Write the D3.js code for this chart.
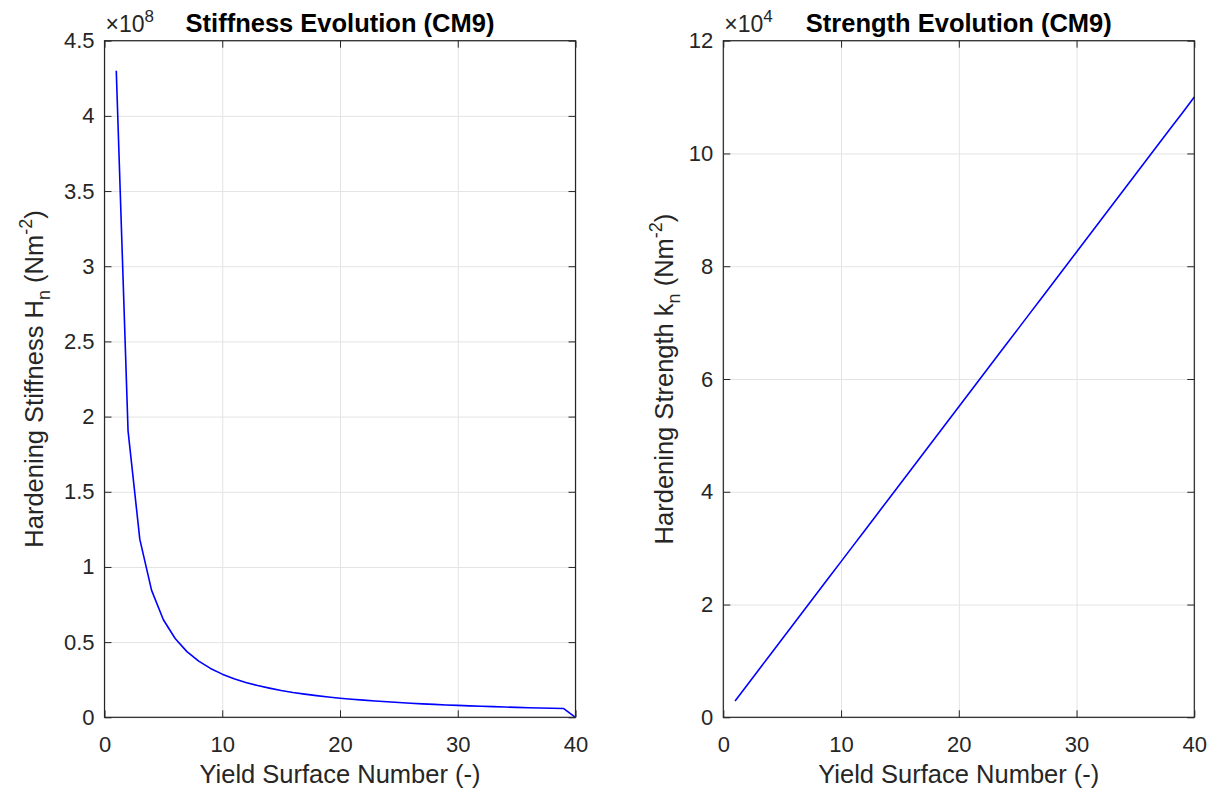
<!DOCTYPE html>
<html>
<head>
<meta charset="utf-8">
<script src="https://cdn.jsdelivr.net/npm/d3@7.9.0/dist/d3.min.js"></script>
<style>
  body { margin: 0; background: #fff; }
  svg { display: block; font-family: "Liberation Sans", Arial, Helvetica, sans-serif; }
  .grid line { stroke: #e3e3e3; stroke-width: 1; }
  .grid path { display: none; }
  .ax path { display: none; }
  .ax line { stroke: #262626; stroke-width: 1; }
  .ax text { fill: #262626; font-size: 22px; }
</style>
</head>
<body>
<svg id="chart" width="1212" height="794"></svg>
<script>
// ---- data ----
const surfaceNo = [1, 2, 3, 4, 5, 6, 7, 8, 9, 10, 11, 12, 13, 14, 15, 16, 17, 18, 19, 20,
  21, 22, 23, 24, 25, 26, 27, 28, 29, 30, 31, 32, 33, 34, 35, 36, 37, 38, 39, 40];

// hardening stiffness H_n, in units of 1e8 N/m^2
const stiffness = [4.30, 1.905, 1.183, 0.844, 0.649, 0.524, 0.437, 0.374, 0.325, 0.287,
  0.257, 0.232, 0.211, 0.194, 0.178, 0.165, 0.154, 0.144, 0.135, 0.127,
  0.120, 0.114, 0.108, 0.103, 0.098, 0.0935, 0.0894, 0.0857, 0.0822, 0.0790,
  0.0760, 0.0733, 0.0707, 0.0683, 0.0660, 0.0639, 0.0619, 0.0600, 0.0583, 0];

// hardening strength k_n, in units of 1e4 N/m^2
const strength = [0.29, 0.565, 0.839, 1.114, 1.388, 1.663, 1.938, 2.212, 2.487, 2.761,
  3.036, 3.310, 3.585, 3.860, 4.134, 4.409, 4.683, 4.958, 5.233, 5.507,
  5.782, 6.056, 6.331, 6.606, 6.880, 7.155, 7.429, 7.704, 7.978, 8.253,
  8.528, 8.802, 9.077, 9.351, 9.626, 9.901, 10.175, 10.450, 10.724, 11.0];

const xTicks = [0, 10, 20, 30, 40];
const stiffnessTicks = [0, 0.5, 1, 1.5, 2, 2.5, 3, 3.5, 4, 4.5];
const strengthTicks = [0, 2, 4, 6, 8, 10, 12];

// ---- layout ----
const svg = d3.select('#chart');
svg.append('rect').attr('width', 1212).attr('height', 794).attr('fill', '#fff');

const plotTop = 40.7;
const plotBottom = 717.3;
const tickLen = 7;

function drawPanel(opts) {
  const { left, right, yDomain, yTicks, values, title, exponent, labelMain, labelSub, labelX } = opts;
  const g = svg.append('g');

  const x = d3.scaleLinear().domain([0, 40]).range([left, right]);
  const y = d3.scaleLinear().domain(yDomain).range([plotBottom, plotTop]);
  const w = right - left;
  const h = plotBottom - plotTop;

  // grid
  g.append('g').attr('class', 'grid')
    .attr('transform', `translate(0,${plotBottom})`)
    .call(d3.axisBottom(x).tickValues(xTicks).tickFormat('').tickSize(-h));
  g.append('g').attr('class', 'grid')
    .attr('transform', `translate(${left},0)`)
    .call(d3.axisLeft(y).tickValues(yTicks).tickFormat('').tickSize(-w));

  // data line
  g.append('path')
    .datum(surfaceNo.map((n, i) => [n, values[i]]))
    .attr('fill', 'none')
    .attr('stroke', '#0000ff')
    .attr('stroke-width', 1.6)
    .attr('stroke-linejoin', 'round')
    .attr('d', d3.line().x(d => x(d[0])).y(d => y(d[1])));

  // axes (ticks pointing inward, mirrored on all sides)
  g.append('g').attr('class', 'ax')
    .attr('transform', `translate(0,${plotBottom})`)
    .call(d3.axisBottom(x).tickValues(xTicks).tickSize(-tickLen).tickPadding(19).tickFormat(d3.format('d')));
  g.append('g').attr('class', 'ax')
    .attr('transform', `translate(0,${plotTop})`)
    .call(d3.axisTop(x).tickValues(xTicks).tickSize(-tickLen).tickFormat(''));
  g.append('g').attr('class', 'ax')
    .attr('transform', `translate(${left},0)`)
    .call(d3.axisLeft(y).tickValues(yTicks).tickSize(-tickLen).tickPadding(10).tickFormat(d => String(d)));
  g.append('g').attr('class', 'ax')
    .attr('transform', `translate(${right},0)`)
    .call(d3.axisRight(y).tickValues(yTicks).tickSize(-tickLen).tickFormat(''));

  g.append('rect')
    .attr('x', left).attr('y', plotTop).attr('width', w).attr('height', h)
    .attr('fill', 'none').attr('stroke', '#262626').attr('stroke-width', 1.2);

  // title
  g.append('text')
    .attr('x', (left + right) / 2).attr('y', 32)
    .attr('text-anchor', 'middle')
    .attr('font-size', 25.5).attr('font-weight', 'bold').attr('fill', '#000')
    .text(title);

  // exponent label
  const ex = g.append('text')
    .attr('x', left + 1).attr('y', 32)
    .attr('font-size', 23).attr('fill', '#262626');
  ex.append('tspan').text('\u00d710');
  ex.append('tspan').attr('dy', -10).attr('font-size', 17).text(exponent);

  // x label
  g.append('text')
    .attr('x', (left + right) / 2).attr('y', 783)
    .attr('text-anchor', 'middle')
    .attr('font-size', 25.5).attr('fill', '#262626')
    .text('Yield Surface Number (-)');

  // y label
  const yl = g.append('text')
    .attr('transform', `translate(${labelX},${(plotTop + plotBottom) / 2}) rotate(-90)`)
    .attr('text-anchor', 'middle')
    .attr('font-size', 25.5).attr('fill', '#262626');
  yl.append('tspan').text(labelMain);
  yl.append('tspan').attr('dy', 7).attr('font-size', 18).text(labelSub);
  yl.append('tspan').attr('dy', -7).text(' (Nm');
  yl.append('tspan').attr('dy', -11).attr('font-size', 18).text('-2');
  yl.append('tspan').attr('dy', 11).text(')');
}

drawPanel({
  left: 104.5, right: 575.5,
  yDomain: [0, 4.5], yTicks: stiffnessTicks, values: stiffness,
  title: 'Stiffness Evolution (CM9)', exponent: '8',
  labelMain: 'Hardening Stiffness H', labelSub: 'n', labelX: 43
});

drawPanel({
  left: 723.3, right: 1194.3,
  yDomain: [0, 12], yTicks: strengthTicks, values: strength,
  title: 'Strength Evolution (CM9)', exponent: '4',
  labelMain: 'Hardening Strength k', labelSub: 'n', labelX: 673
});
</script>
</body>
</html>
